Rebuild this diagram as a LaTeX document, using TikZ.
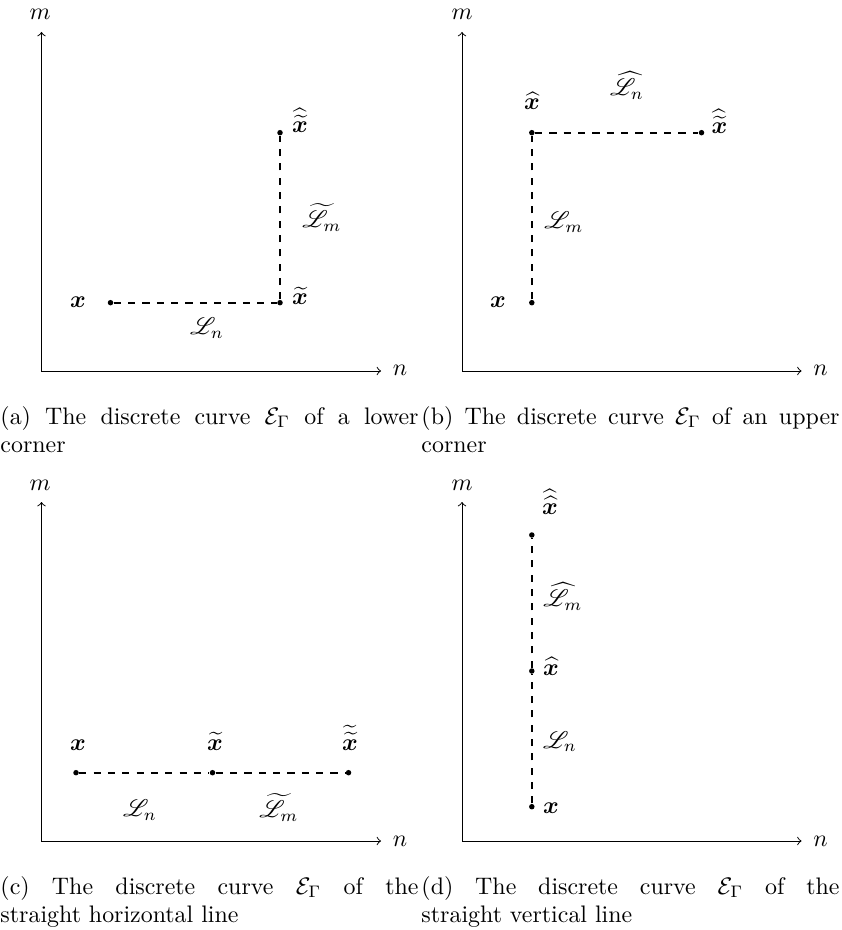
\documentclass[tikz,border=0pt]{standalone}
\usepackage{amsmath,amssymb,bm,mathrsfs}
\tikzset{
  px/.style={x=0.4184pt,y=-0.4184pt},
  axis/.style={<->, line width=0.4pt},
  curve/.style={dashed, thick},
  dot/.style={circle, fill, inner sep=0pt, minimum size=2.3pt},
  lbl/.style={anchor=base, inner sep=0pt},
  captext/.style={anchor=north west, inner sep=0pt, text width=174.9pt, align=justify, execute at begin node={\hyphenpenalty=10000\tolerance=10000}},
}
\begin{document}
\begin{tikzpicture}[px]
\useasboundingbox (0,0) rectangle (841,930);
% ---------- (a) ----------
\coordinate (ya) at (41.5,32);
\coordinate (oa) at (41.5,371);
\coordinate (xa) at (381,371);
\draw[axis] (ya) -- (oa) -- (xa);
\node[lbl] (ma) at (40,20) {$m$};
\node[lbl] (na) at (400,376) {$n$};
\node[dot] (a1) at (110.5,302.7) {};
\node[dot] (a2) at (280,302.7) {};
\node[dot] (a3) at (280,132.7) {};
\draw[curve] (a1) -- (a2);
\draw[curve] (a2) -- (a3);
\node[lbl] (la1) at (78,307.5) {$\bm{x}$};
\node[lbl] (la2) at (300,305) {$\widetilde{\bm{x}}$};
\node[lbl] (la3) at (300,133) {$\widehat{\widetilde{\bm{x}}}$};
\node[lbl] (la4) at (322,228) {$\widetilde{\mathscr{L}}_m$};
\node[lbl] (la5) at (207,335) {$\mathscr{L}_n$};
\node[captext] (capa) at (0,403.7) {\strut(a) The discrete curve $\mathcal{E}_\Gamma$ of a lower\linebreak corner};
% ---------- (b) ----------
\coordinate (yb) at (462,32);
\coordinate (ob) at (462,371);
\coordinate (xb) at (801.5,371);
\draw[axis] (yb) -- (ob) -- (xb);
\node[lbl] (mb) at (462,20) {$m$};
\node[lbl] (nb) at (820.5,376) {$n$};
\node[dot] (b1) at (531.8,302.7) {};
\node[dot] (b2) at (531.8,132.7) {};
\node[dot] (b3) at (701.5,132.7) {};
\draw[curve] (b1) -- (b2);
\draw[curve] (b2) -- (b3);
\node[lbl] (lb1) at (498,307.5) {$\bm{x}$};
\node[lbl] (lb2) at (532,110) {$\widehat{\bm{x}}$};
\node[lbl] (lb3) at (719.5,134) {$\widehat{\widetilde{\bm{x}}}$};
\node[lbl] (lb4) at (627,96) {$\widehat{\mathscr{L}}_n$};
\node[lbl] (lb5) at (564,229) {$\mathscr{L}_m$};
\node[captext] (capb) at (421,403.7) {\strut(b) The discrete curve $\mathcal{E}_\Gamma$ of an upper\linebreak corner};
% ---------- (c) ----------
\coordinate (yc) at (41.5,502);
\coordinate (oc) at (41.5,841);
\coordinate (xc) at (381,841);
\draw[axis] (yc) -- (oc) -- (xc);
\node[lbl] (mc) at (40,490) {$m$};
\node[lbl] (nc) at (400,846) {$n$};
\node[dot] (c1) at (76,772.7) {};
\node[dot] (c2) at (212.5,772.7) {};
\node[dot] (c3) at (348.5,772.7) {};
\draw[curve] (c1) -- (c2);
\draw[curve] (c2) -- (c3);
\node[lbl] (lc1) at (78,750) {$\bm{x}$};
\node[lbl] (lc2) at (215,750) {$\widetilde{\bm{x}}$};
\node[lbl] (lc3) at (350,750) {$\widetilde{\widetilde{\bm{x}}}$};
\node[lbl] (lc4) at (140,816.5) {$\mathscr{L}_n$};
\node[lbl] (lc5) at (279,817.5) {$\widetilde{\mathscr{L}}_m$};
\node[captext] (capc) at (0,873.7) {\strut(c) The discrete curve $\mathcal{E}_\Gamma$ of the\linebreak straight horizontal line};
% ---------- (d) ----------
\coordinate (yd) at (462,502);
\coordinate (od) at (462,841);
\coordinate (xd) at (801.5,841);
\draw[axis] (yd) -- (od) -- (xd);
\node[lbl] (md) at (462,490) {$m$};
\node[lbl] (nd) at (820.5,846) {$n$};
\node[dot] (d1) at (531.8,806.7) {};
\node[dot] (d2) at (531.8,671) {};
\node[dot] (d3) at (531.8,535) {};
\draw[curve] (d1) -- (d2);
\draw[curve] (d2) -- (d3);
\node[lbl] (ld1) at (551,813) {$\bm{x}$};
\node[lbl] (ld2) at (551,675) {$\widehat{\bm{x}}$};
\node[lbl] (ld3) at (550,514) {$\widehat{\widehat{\bm{x}}}$};
\node[lbl] (ld4) at (563,606.7) {$\widehat{\mathscr{L}}_m$};
\node[lbl] (ld5) at (560,748) {$\mathscr{L}_n$};
\node[captext] (capd) at (421,873.7) {\strut(d) The discrete curve $\mathcal{E}_\Gamma$ of the\linebreak straight vertical line};
\end{tikzpicture}
\end{document}
